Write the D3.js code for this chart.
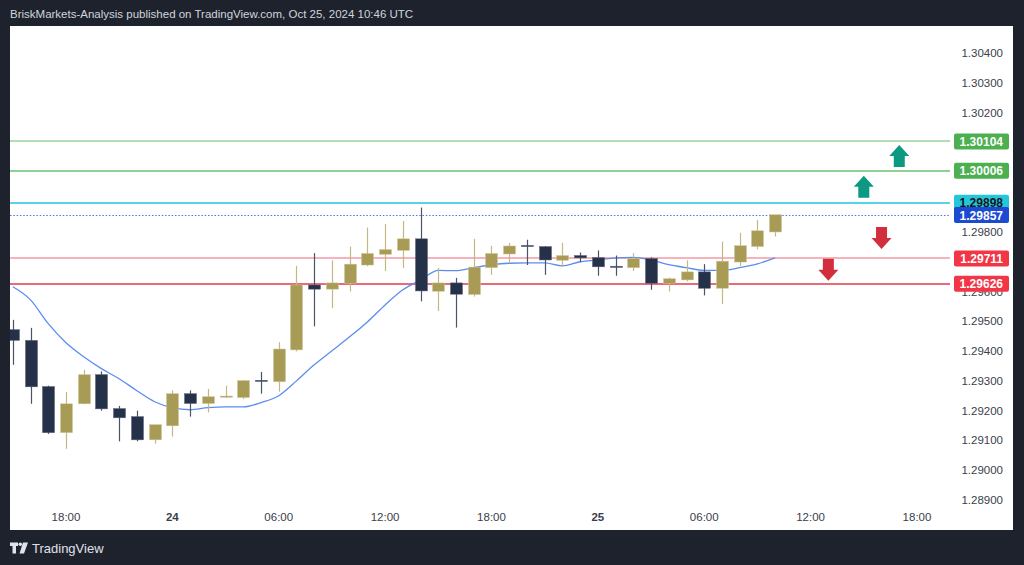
<!DOCTYPE html>
<html><head><meta charset="utf-8">
<script src="https://cdn.jsdelivr.net/npm/d3@7"></script>
<style>
html,body{margin:0;padding:0;background:#1e222d;}
svg{display:block;}
</style></head>
<body>
<svg id="c" width="1024" height="565"></svg>
<script>
// ---- data (hourly candles, Oct 23 15:00 -> Oct 25 10:00 UTC) ----
const startTime = "2024-10-23T15:00:00Z";
const opens  = [1.29472,1.29436,1.29281,1.29126,1.29223,1.29321,1.29207,1.29180,1.29102,1.29149,1.29257,1.29224,1.29245,1.29244,1.29302,1.29297,1.29404,1.29622,1.29608,1.29628,1.29689,1.29725,1.29738,1.29777,1.29601,1.29629,1.29590,1.29680,1.29726,1.29755,1.29751,1.29705,1.29721,1.29714,1.29685,1.29680,1.29711,1.29628,1.29639,1.29666,1.29611,1.29699,1.29751,1.29800];
const highs  = [1.29505,1.29478,1.29284,1.29263,1.29337,1.29332,1.29216,1.29200,1.29153,1.29268,1.29268,1.29273,1.29284,1.29303,1.29330,1.29430,1.29686,1.29729,1.29705,1.29751,1.29815,1.29827,1.29837,1.29882,1.29679,1.29646,1.29777,1.29754,1.29763,1.29774,1.29752,1.29764,1.29731,1.29738,1.29721,1.29729,1.29715,1.29647,1.29705,1.29692,1.29768,1.29797,1.29840,1.29857];
const lows   = [1.29354,1.29223,1.29122,1.29072,1.29222,1.29200,1.29097,1.29097,1.29089,1.29113,1.29180,1.29194,1.29242,1.29239,1.29257,1.29264,1.29399,1.29483,1.29544,1.29600,1.29685,1.29669,1.29679,1.29567,1.29535,1.29479,1.29583,1.29656,1.29695,1.29689,1.29656,1.29684,1.29699,1.29653,1.29653,1.29669,1.29606,1.29600,1.29634,1.29587,1.29558,1.29686,1.29742,1.29785];
const closes = [1.29436,1.29280,1.29126,1.29223,1.29321,1.29206,1.29176,1.29102,1.29153,1.29257,1.29224,1.29247,1.29249,1.29301,1.29300,1.29407,1.29622,1.29608,1.29629,1.29692,1.29728,1.29741,1.29777,1.29602,1.29629,1.29591,1.29682,1.29728,1.29753,1.29752,1.29706,1.29721,1.29713,1.29683,1.29683,1.29711,1.29628,1.29643,1.29666,1.29611,1.29702,1.29754,1.29804,1.29858];
const maValues = [1.29616,1.29572,1.29492,1.29428,1.29381,1.29341,1.29307,1.29267,1.29230,1.29210,1.29203,1.29210,1.29213,1.29213,1.29227,1.29250,1.29300,1.29354,1.29401,1.29448,1.29498,1.29555,1.29606,1.29639,1.29671,1.29670,1.29680,1.29690,1.29695,1.29696,1.29696,1.29686,1.29700,1.29706,1.29713,1.29715,1.29706,1.29690,1.29680,1.29671,1.29671,1.29680,1.29693,1.29713];

// price scale labels visible in the reference (others are hidden behind level labels)
const priceTicks = [1.289,1.290,1.291,1.292,1.293,1.294,1.295,1.296,1.298,1.302,1.303,1.304];
const timeTicks = ["2024-10-23T18:00:00Z","2024-10-24T00:00:00Z","2024-10-24T06:00:00Z","2024-10-24T12:00:00Z","2024-10-24T18:00:00Z","2024-10-25T00:00:00Z","2024-10-25T06:00:00Z","2024-10-25T12:00:00Z","2024-10-25T18:00:00Z"];
const timeTickLabels = ["18:00","24","06:00","12:00","18:00","25","06:00","12:00","18:00"];
const timeTickBold = [false,true,false,false,false,true,false,false,false];

const levelPrices = [1.30104,1.30006,1.29898,1.29711,1.29626];
const levelKinds  = ["green1","green2","cyan","pink","red"];
const currentPrice = 1.29857;

const arrowTimes  = ["2024-10-25T17:00:00Z","2024-10-25T15:00:00Z","2024-10-25T16:00:00Z","2024-10-25T13:00:00Z"];
const arrowPrices = [1.30092,1.29989,1.29743,1.29636];
const arrowDirs   = ["up","up","down","down"];

// ---- layout ----
const svg = d3.select("#c");
const W=1024,H=565;
const pane = {x0:10, x1:950, y0:26, y1:505};
const panel = {x0:10, x1:1013, y0:26, y1:530};

const hour = 3600*1000;
const t0 = new Date(startTime);
const times = opens.map((d,i)=>new Date(t0.getTime()+i*hour));

const x = d3.scaleUtc().domain([new Date("2024-10-23T15:00:00Z"), new Date("2024-10-25T18:00:00Z")]).range([12.8, 917]);
const y = d3.scaleLinear().domain([1.289,1.304]).range([500,53.3]);

// background
svg.append("rect").attr("width",W).attr("height",H).attr("fill","#1e222d");
svg.append("rect").attr("x",panel.x0).attr("y",panel.y0).attr("width",panel.x1-panel.x0).attr("height",panel.y1-panel.y0).attr("fill","#ffffff");

// header
svg.append("text").attr("x",10).attr("y",18).attr("fill","#d1d4dc")
  .attr("font-family","Liberation Sans, Arial, sans-serif").attr("font-size",11.5)
  .text("BriskMarkets-Analysis published on TradingView.com, Oct 25, 2024 10:46 UTC");

// clip
svg.append("defs").append("clipPath").attr("id","paneclip").append("rect")
  .attr("x",pane.x0).attr("y",pane.y0).attr("width",pane.x1-pane.x0).attr("height",pane.y1-pane.y0);
const g = svg.append("g").attr("clip-path","url(#paneclip)");

// level lines
const lineColors = {green1:"#98d39a",green2:"#6cc070",cyan:"#22c3d8",pink:"#f59aa4",red:"#e23a4b"};
g.selectAll("line.lvl").data(levelPrices).enter().append("line")
  .attr("x1",pane.x0).attr("x2",pane.x1)
  .attr("y1",d=>Math.round(y(d))).attr("y2",d=>Math.round(y(d)))
  .attr("stroke",(d,i)=>lineColors[levelKinds[i]]).attr("stroke-width",1.6);

// current price dotted line
g.append("line").attr("x1",pane.x0).attr("x2",pane.x1)
  .attr("y1",Math.round(y(currentPrice))+0.5).attr("y2",Math.round(y(currentPrice))+0.5)
  .attr("stroke","#4f73e3").attr("stroke-width",1).attr("stroke-dasharray","1.5,1.8");

// moving average
const line = d3.line().x((d,i)=>x(times[i])).y(d=>y(d)).curve(d3.curveMonotoneX);
g.append("path").datum(maValues).attr("d",line).attr("fill","none")
  .attr("stroke","#5b8def").attr("stroke-width",1.3);

// candles
const bull="#a89b55", bear="#253049", bullW="#c2b886", bearW="#4b5368";
const bw = 12;
const candles = opens.map((o,i)=>({t:times[i],o,h:highs[i],l:lows[i],c:closes[i]}));
const cg = g.selectAll("g.cdl").data(candles).enter().append("g");
cg.append("line")
  .attr("x1",d=>Math.round(x(d.t))+0.5).attr("x2",d=>Math.round(x(d.t))+0.5)
  .attr("y1",d=>y(d.h)).attr("y2",d=>y(d.l))
  .attr("stroke",d=>d.c>=d.o?bullW:bearW).attr("stroke-width",1.2);
cg.append("rect")
  .attr("x",d=>Math.round(x(d.t))+0.5-bw/2).attr("width",bw)
  .attr("y",d=>y(Math.max(d.o,d.c)))
  .attr("height",d=>Math.max(1.2,Math.abs(y(d.o)-y(d.c))))
  .attr("fill",d=>d.c>=d.o?bull:bear)
  .attr("stroke",d=>d.c>=d.o?"#cfc69a":"#5a6278").attr("stroke-width",0.5);

// arrows
const arrowData = arrowTimes.map((t,i)=>({t:new Date(t),p:arrowPrices[i],dir:arrowDirs[i]}));
g.selectAll("path.arr").data(arrowData).enter().append("path")
  .attr("transform",d=>`translate(${x(d.t)},${y(d.p)})`)
  .attr("d",d=> d.dir==="up"
      ? "M0,0 L10,11 L5.5,11 L5.5,22 L-5.5,22 L-5.5,11 L-10,11 Z"
      : "M0,0 L10,-11 L5.5,-11 L5.5,-22 L-5.5,-22 L-5.5,-11 L-10,-11 Z")
  .attr("fill",d=>d.dir==="up"?"#0b9981":"#d12f3d");

// price axis tick labels
svg.selectAll("text.pt").data(priceTicks).enter().append("text")
  .attr("x",1003).attr("y",d=>y(d)+4).attr("text-anchor","end")
  .attr("font-family","Liberation Sans, Arial, sans-serif").attr("font-size",11.5)
  .attr("fill","#3a3e4a").text(d=>d.toFixed(5));

// price labels
const labelBg = {green1:"#4caf50",green2:"#4caf50",cyan:"#26c6da",pink:"#f23645",red:"#f23645"};
const labelFg = {green1:"#ffffff",green2:"#ffffff",cyan:"#131722",pink:"#ffffff",red:"#ffffff"};
function priceLabel(p, bg, fg){
  const yy = y(p);
  svg.append("rect").attr("x",954).attr("y",yy-8).attr("width",55).attr("height",16).attr("rx",2).attr("fill",bg);
  svg.append("text").attr("x",1003).attr("y",yy+4.5).attr("text-anchor","end")
    .attr("font-family","Liberation Sans, Arial, sans-serif").attr("font-size",12).attr("font-weight","bold")
    .attr("fill",fg).text(p.toFixed(5));
}
levelPrices.forEach((p,i)=>{ if(levelKinds[i]!=="cyan") priceLabel(p,labelBg[levelKinds[i]],labelFg[levelKinds[i]]); });
priceLabel(levelPrices[2],labelBg.cyan,labelFg.cyan);
priceLabel(currentPrice,"#1c4bd1","#ffffff");

// time axis
svg.selectAll("text.tt").data(timeTicks).enter().append("text")
  .attr("x",d=>x(new Date(d))).attr("y",521).attr("text-anchor","middle")
  .attr("font-family","Liberation Sans, Arial, sans-serif").attr("font-size",11.5)
  .attr("font-weight",(d,i)=>timeTickBold[i]?"bold":"normal")
  .attr("fill","#3a3e4a").text((d,i)=>timeTickLabels[i]);

// footer logo
const lg = svg.append("g").attr("fill","#e0e3eb");
lg.append("path").attr("d","M10,542.5 H18 V546 H16 V553.5 H12.5 V546 H10 Z");
lg.append("circle").attr("cx",20.3).attr("cy",544.3).attr("r",1.8);
lg.append("path").attr("d","M23,542.5 H28 L24,553.5 H19.5 Z");
svg.append("text").attr("x",32).attr("y",552.5).attr("fill","#e0e3eb")
  .attr("font-family","Liberation Sans Narrow, Liberation Sans, Arial, sans-serif").attr("font-size",13)
  .text("TradingView");
</script>
</body></html>
